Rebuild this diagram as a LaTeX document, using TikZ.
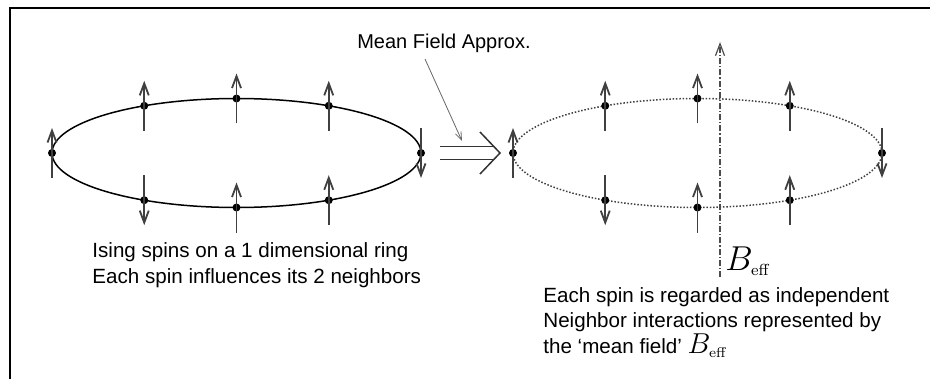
\documentclass[tikz,border=0pt]{standalone}
\usepackage[no-math]{fontspec}
\setmainfont{Liberation Sans}
\usetikzlibrary{arrows.meta,calc}

\begin{document}
\begin{tikzpicture}[x=0.5pt, y=-0.5pt,
    ring/.style={line width=0.75pt, black},
    meanring/.style={line width=0.75pt, black!75, dash pattern=on 0.75pt off 0.9pt},
    spindot/.style={circle, fill=black, inner sep=0pt, minimum size=4pt},
    spin/.style={-{Straight Barb[length=6pt, width=4.5pt]}, line width=0.9pt, black!75},
    field/.style={-{Straight Barb[length=6pt, width=4.5pt]}, line width=0.6pt, black!70,
                  dash pattern=on 3pt off 1pt on 0.6pt off 1pt},
    pointer/.style={-{Straight Barb[length=4pt, width=3pt]}, line width=0.4pt, black!60},
    implies/.style={line width=0.75pt, black!80},
    caption/.style={align=left, font=\fontsize{10.3}{12.8}\selectfont, inner sep=0pt},
]
    \useasboundingbox (0,0) rectangle (930,379);
    \draw[line width=1.2pt] (10,385) -- (10,8) -- (935,8);

    % Ising ring
    \draw[ring] (236.5,153) ellipse [x radius=184.5, y radius=54.5];
    \foreach \ang/\from/\to in {0/12.5/-12.5, 60/-12.5/12.5, 90/-12.5/12.5, 120/-12.5/12.5,
                                180/-12.5/12.5, 240/12.5/-12.5, 270/-12.5/12.5, 300/-12.5/12.5} {
        \node[spindot] (L\ang) at ({236.5+184.5*cos(\ang)},{153-54.5*sin(\ang)}) {};
        \draw[spin] ([yshift=\from pt]L\ang.center) -- ([yshift=\to pt]L\ang.center);
    }
    \node[caption, anchor=west] (ringtxt) at (92,265)
        {Ising spins on a 1 dimensional ring\\Each spin influences its 2 neighbors};

    % mean field ring
    \draw[meanring] (697.5,153) ellipse [x radius=184.5, y radius=54.5];
    \coordinate (fieldbot) at (720,277);
    \coordinate (fieldtop) at (720,42);
    \draw[field] (fieldbot) -- (fieldtop);
    \foreach \ang/\from/\to in {0/12.5/-12.5, 60/-12.5/12.5, 90/-12.5/12.5, 120/-12.5/12.5,
                                180/-12.5/12.5, 240/12.5/-12.5, 270/-12.5/12.5, 300/-12.5/12.5} {
        \node[spindot] (R\ang) at ({697.5+184.5*cos(\ang)},{153-54.5*sin(\ang)}) {};
        \draw[spin] ([yshift=\from pt]R\ang.center) -- ([yshift=\to pt]R\ang.center);
    }
    \node[anchor=west, inner sep=0pt, font=\fontsize{17}{17}\selectfont] (beff) at (725,261)
        {$B_{\scriptscriptstyle\mathrm{eff}}$};
    \node[caption, anchor=north west] (meantxt) at (543,287)
        {Each spin is regarded as independent\\Neighbor interactions represented by\\the `mean field'
         {\fontsize{14}{14}\selectfont$B_{\scriptscriptstyle\mathrm{eff}}$}};

    % approximation arrow
    \coordinate (implS) at (440,153);
    \coordinate (implE) at (500,153);
    \draw[implies] ($(implS)+(0,-6.5)$) -- ($(implE)+(-6,-6.5)$);
    \draw[implies] ($(implS)+(0,6.5)$) -- ($(implE)+(-6,6.5)$);
    \draw[implies] ($(implE)+(-20,-21)$) -- (implE) -- ($(implE)+(-20,21)$);
    \node[font=\fontsize{10}{12}\selectfont] (mfa) at (444,43) {Mean Field Approx.};
    \coordinate (ptrS) at (425,59);
    \coordinate (ptrE) at (462,141);
    \draw[pointer] (ptrS) -- (ptrE);
\end{tikzpicture}
\end{document}
